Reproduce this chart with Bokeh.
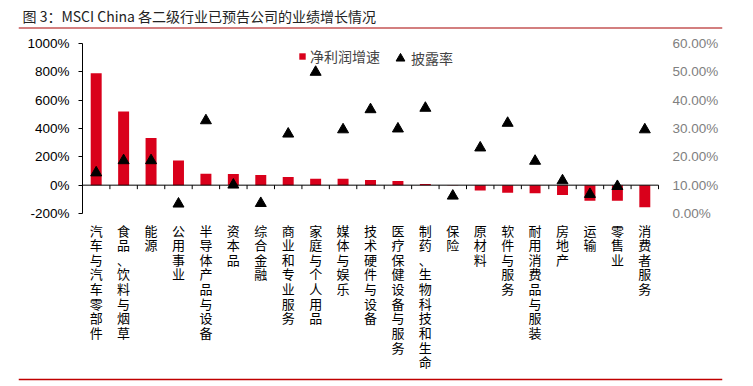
import math
from bokeh.plotting import figure
from bokeh.models import (Range1d, LinearAxis, FixedTicker, PrintfTickFormatter,
                          NumeralTickFormatter, Span, Legend, LegendItem, LabelSet, Label,
                          FactorRange, LinearScale, ColumnDataSource)
from bokeh.core.properties import value
from bokeh.transform import dodge
from bokeh.embed import file_html
from bokeh.resources import INLINE

# ---------------- data ----------------
categories = ["汽车与汽车零部件", "食品、饮料与烟草", "能源", "公用事业", "半导体产品与设备",
              "资本品", "综合金融", "商业和专业服务", "家庭与个人用品", "媒体与娱乐",
              "技术硬件与设备", "医疗保健设备与服务", "制药、生物科技和生命", "保险", "原材料",
              "软件与服务", "耐用消费品与服装", "房地产", "运输", "零售业", "消费者服务"]
# net profit growth, in %
profit_growth = [790, 520, 333, 174, 81, 79, 71, 57, 45, 45,
                 36, 29, 9, 1, -38, -53, -57, -69, -110, -110, -155]
# disclosure rate (fraction)
disclosure_rate = [0.144, 0.187, 0.187, 0.034, 0.328, 0.101, 0.036, 0.281, 0.499, 0.296,
                   0.367, 0.299, 0.372, 0.062, 0.232, 0.319, 0.185, 0.116, 0.068, 0.096, 0.296]

left_ticks = [-200, 0, 200, 400, 600, 800, 1000]
right_ticks = [0.0, 0.1, 0.2, 0.3, 0.4, 0.5, 0.6]

title_text = "图 3：MSCI China 各二级行业已预告公司的业绩增长情况"
bar_label = "净利润增速"
tri_label = "披露率"

# ---------------- layout geometry (pixels) ----------------
W, H = 753, 386
CAT_W = 27.44            # width of one category
AX_L = 82                # x of the left value axis
FRAME_L = 18             # frame spans the whole drawing incl. title rules
Y_TOP_PX, Y_BOT_PX = 43, 213   # pixel rows of the top / bottom left-axis ticks
TITLE_X, TITLE_Y = 22, 15
RULE_TOP_Y, RULE_BOT_Y = 27.5, 379

n = len(categories)
pad = (AX_L - FRAME_L) / CAT_W
frame_w = round(CAT_W * (n + 2 * pad))
lo, hi = left_ticks[0], left_ticks[-1]
k = (Y_BOT_PX - Y_TOP_PX) / (hi - lo)          # px per left-axis unit


def ydata(py):
    return hi + (Y_TOP_PX - py) / k


def xsyn(px):
    return (px - AX_L) / CAT_W


y_start, y_end = ydata(H), ydata(0)
r_lo, r_hi = right_ticks[0], right_ticks[-1]


def to_rate(v):
    return r_lo + (v - lo) * (r_hi - r_lo) / (hi - lo)


# ---------------- style ----------------
CJK = "Noto Sans CJK SC"
LAT = "Liberation Sans"
RED = "#d9001b"

p = figure(frame_width=frame_w, frame_height=H, title=None,
           x_range=FactorRange(*categories, range_padding=pad, range_padding_units="absolute"),
           y_range=Range1d(y_start, y_end), x_axis_location=None,
           output_backend="svg", toolbar_location=None,
           min_border_left=FRAME_L, min_border_right=W - FRAME_L - frame_w,
           min_border_top=0, min_border_bottom=0, outline_line_color=None)
p.xgrid.grid_line_color = None
p.ygrid.grid_line_color = None

# left value axis, fixed at the first category boundary
ya = p.yaxis[0]
ya.fixed_location = 0
ya.bounds = (lo, hi)
ya.ticker = FixedTicker(ticks=left_ticks)
ya.formatter = PrintfTickFormatter(format="%d%%")
ya.axis_line_color = "black"
ya.major_tick_line_color = "black"
ya.major_tick_out = 4
ya.major_tick_in = 0
ya.minor_tick_line_color = None
ya.major_label_standoff = 9
ya.major_label_text_font = LAT
ya.major_label_text_font_size = "13.5px"
ya.major_label_text_color = "black"

# right axis (disclosure rate), fixed at the last category boundary
p.extra_y_ranges = {"rate": Range1d(to_rate(y_start), to_rate(y_end))}
p.extra_y_scales = {"rate": LinearScale()}
ra = LinearAxis(y_range_name="rate", ticker=FixedTicker(ticks=right_ticks),
                formatter=NumeralTickFormatter(format="0.00%"), fixed_location=n)
ra.axis_line_color = None
ra.major_tick_line_color = None
ra.minor_tick_line_color = None
ra.major_tick_out = 0
ra.major_tick_in = 0
ra.major_label_standoff = 14
ra.major_label_text_font = LAT
ra.major_label_text_font_size = "13.5px"
ra.major_label_text_color = "#808080"
p.add_layout(ra, "right")

# bars and triangles
r_bar = p.vbar(x=categories, top=profit_growth, width=0.4, fill_color=RED, line_color=None)
r_tri = p.scatter(x=categories, y=disclosure_rate, y_range_name="rate", marker="triangle",
                  size=11, fill_color="black", line_color="black")
r_tri.level = "overlay"

# category axis line at 0 with ticks between categories
ends = ColumnDataSource(dict(c0=categories[:1], c1=categories[-1:], y=[0]))
p.segment(x0=dodge("c0", -0.5, range=p.x_range), x1=dodge("c1", 0.5, range=p.x_range),
          y0="y", y1="y", source=ends, line_color="black", line_width=1)
src_left = ColumnDataSource(dict(cat=categories, y=[0] * n))
src_last = ColumnDataSource(dict(cat=categories[-1:], y=[0]))
for src, off in [(src_left, -0.5), (src_last, 0.5)]:
    p.ray(x=dodge("cat", off, range=p.x_range), y="y", source=src, length=4,
          length_units="screen", angle=-math.pi / 2, line_color="black", line_width=1)

# category labels, written vertically (one character per line)
lab_src = ColumnDataSource(dict(cat=categories, y=[lo] * n,
                                txt=["\n".join(c) for c in categories]))
p.add_layout(LabelSet(x="cat", y="y", text="txt", source=lab_src, y_offset=-7,
                      text_font=value(CJK), text_font_size="13px", text_line_height=0.77,
                      text_align="center", text_baseline="top", text_color="black"))

# title and red rules
p.add_layout(Label(x=xsyn(TITLE_X), y=ydata(TITLE_Y), text=title_text, text_font=CJK,
                   text_font_size="14px", text_color="#222222", text_baseline="middle",
                   text_align="left"))
p.add_layout(Span(location=ydata(RULE_TOP_Y), dimension="width", line_color="#a80000",
                  line_width=1.2))
p.add_layout(Span(location=ydata(RULE_BOT_Y), dimension="width", line_color="#c00000",
                  line_width=1.3))

# legends (location relative to frame bottom-left)
leg1 = Legend(items=[LegendItem(label=bar_label, renderers=[r_bar])],
              location=(298 - FRAME_L, H - 66), orientation="horizontal",
              glyph_width=8, glyph_height=8,
              label_standoff=4, padding=0, margin=0, border_line_color=None,
              background_fill_alpha=0, label_text_font=CJK, label_text_font_size="14px",
              label_height=16)
leg2 = Legend(items=[LegendItem(label=tri_label, renderers=[r_tri])],
              location=(389 - FRAME_L, H - 69), orientation="horizontal",
              glyph_width=22, glyph_height=22,
              label_standoff=-4, padding=0, margin=0, border_line_color=None,
              background_fill_alpha=0, label_text_font=CJK, label_text_font_size="14px",
              label_height=16)
p.add_layout(leg1)
p.add_layout(leg2)

open("out.html", "w").write(file_html(p, INLINE))
